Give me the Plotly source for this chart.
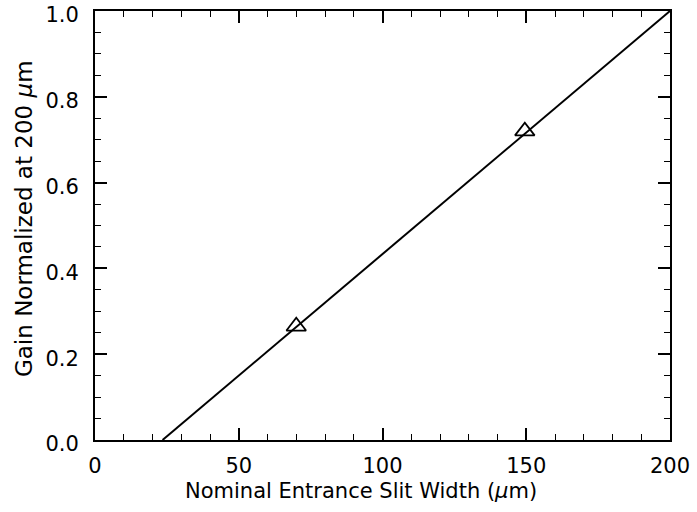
import plotly.graph_objects as go

# Data
fit_x = [23.5, 200.0]
fit_y = [0.0, 1.0]
meas_x = [70.0, 149.5]
meas_y = [0.265, 0.72]

x_ticks = [0, 50, 100, 150, 200]
y_ticks = [0.0, 0.2, 0.4, 0.6, 0.8, 1.0]
y_tick_text = ["0.0", "0.2", "0.4", "0.6", "0.8", "1.0"]

x_title = "Nominal Entrance Slit Width (<i>μ</i>m)"
y_title = "Gain Normalized at 200 <i>μ</i>m"

FONT = "DejaVu Sans, Arial, sans-serif"
FS = 21

fig = go.Figure()
fig.add_trace(go.Scatter(x=fit_x, y=fit_y, mode="lines",
                         line=dict(color="black", width=2), showlegend=False))
fig.add_trace(go.Scatter(x=meas_x, y=meas_y, mode="markers",
                         marker=dict(symbol="triangle-up-open", size=17,
                                     color="black", line=dict(width=1.8)),
                         showlegend=False))

axis_common = dict(showgrid=False, zeroline=False, showline=True, linecolor="black",
                   linewidth=2, mirror="allticks", ticks="inside", ticklen=12,
                   tickwidth=1.5, tickcolor="black", automargin=False,
                   ticklabeloverflow="allow",
                   tickfont=dict(family=FONT, size=FS, color="black"))

fig.update_xaxes(range=[0, 200], tickvals=x_ticks,
                 minor=dict(dtick=10, ticks="inside", ticklen=6, tickwidth=1.2, tickcolor="black"),
                 ticklabelstandoff=6,
                 **axis_common)
fig.update_yaxes(range=[0, 1.0], tickvals=y_ticks, ticktext=y_tick_text,
                 minor=dict(dtick=0.05, ticks="inside", ticklen=6, tickwidth=1.2, tickcolor="black"),
                 ticklabelstandoff=10, ticklabelshift=4,
                 **axis_common)

fig.add_annotation(text=x_title, xref="paper", yref="paper", x=0.462, y=0,
                   yshift=-51, xanchor="center", yanchor="middle", showarrow=False,
                   font=dict(family=FONT, size=FS, color="black"))
fig.add_annotation(text=y_title, xref="paper", yref="paper", x=0, y=0.515,
                   xshift=-71, xanchor="center", yanchor="middle", textangle=-90,
                   showarrow=False, font=dict(family=FONT, size=23, color="black"))

fig.update_layout(width=697, height=512, plot_bgcolor="white", paper_bgcolor="white",
                  margin=dict(l=95, r=27, t=11, b=72, autoexpand=False))

fig.write_html("out.html")
